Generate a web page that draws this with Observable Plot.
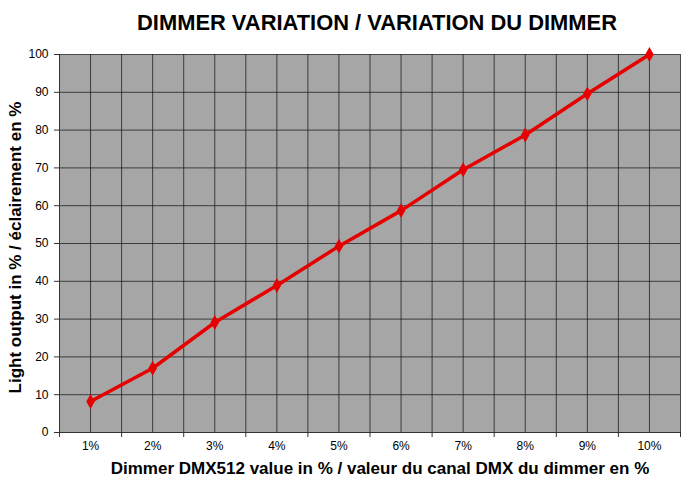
<!DOCTYPE html>
<html>
<head>
<meta charset="utf-8">
<script src="https://cdn.jsdelivr.net/npm/d3@7"></script>
<script src="https://cdn.jsdelivr.net/npm/@observablehq/plot@0.6"></script>
<style>
  body { margin: 0; background: #fff; font-family: "Liberation Sans", Arial, sans-serif; }
  #wrap { width: 700px; height: 490px; position: relative; }
  #title { box-sizing: border-box; height: 40px; padding-top: 12px; padding-left: 54px; width: 700px;
           text-align: center; font-weight: bold; font-size: 21.9px; line-height: 1; color: #000; }
</style>
</head>
<body>
<div id="wrap">
  <div id="title">DIMMER VARIATION / VARIATION DU DIMMER</div>
  <div id="chart"></div>
</div>
<script>
const titleText = "DIMMER VARIATION / VARIATION DU DIMMER";
const xLabel = "Dimmer DMX512 value in % / valeur du canal DMX du dimmer en %";
const yLabel = "Light output in % / éclairement en %";
const categories = ["1%", "2%", "3%", "4%", "5%", "6%", "7%", "8%", "9%", "10%"];
const lightOutput = [8.2, 17.0, 29.1, 38.9, 49.3, 58.7, 69.5, 78.7, 89.6, 100];
const yTicks = [0, 10, 20, 30, 40, 50, 60, 70, 80, 90, 100];

const rows = categories.map((c, i) => ({pos: i + 1, cat: c, value: lightOutput[i]}));
const positions = rows.map(d => d.pos);
const boundaries = d3.range(0.5, categories.length + 1, 1);
const gridXs = d3.range(1, categories.length + 0.51, 0.5);

const chart = Plot.plot({
  width: 700,
  height: 450,
  marginLeft: 59,
  marginRight: 20,
  marginTop: 14,
  marginBottom: 58,
  style: {fontFamily: "Liberation Sans, Arial, sans-serif", fontSize: "12px", color: "#000", background: "transparent"},
  x: {type: "linear", domain: [0.5, categories.length + 0.5]},
  y: {domain: [0, 100]},
  marks: [
    Plot.frame({fill: "#a6a6a6", stroke: null}),
    Plot.gridX(gridXs, {stroke: "#1a1a1a", strokeOpacity: 0.75, strokeWidth: 1}),
    Plot.gridY(yTicks, {stroke: "#1a1a1a", strokeOpacity: 0.75, strokeWidth: 1}),
    Plot.ruleX([0.5], {stroke: "#333", strokeWidth: 1}),
    Plot.ruleY([0], {stroke: "#333", strokeWidth: 1}),
    Plot.axisY(yTicks, {tickSize: 5, tickPadding: 6, label: null, fontSize: 12, stroke: "#333"}),
    Plot.axisX(boundaries, {tickSize: 5, tickFormat: () => "", label: null, stroke: "#333"}),
    Plot.axisX(positions, {tickSize: 0, tickPadding: 9, tickFormat: (d) => categories[d - 1], label: null, fontSize: 12}),
    Plot.line(rows, {x: "pos", y: "value", stroke: "#e60000", strokeWidth: 3.5}),
    Plot.dot(rows, {x: "pos", y: "value", symbol: "diamond", r: 4.5, fill: "#e60000", stroke: null}),
    Plot.text([yLabel], {frameAnchor: "left", rotate: -90, dx: -44, dy: 4, textAnchor: "middle", fontSize: 17, fontWeight: "bold", fill: "#000"}),
    Plot.text([xLabel], {frameAnchor: "bottom", dx: 10, dy: 41, textAnchor: "middle", fontSize: 17, fontWeight: "bold", fill: "#000"})
  ]
});
document.getElementById("chart").appendChild(chart);
</script>
</body>
</html>
